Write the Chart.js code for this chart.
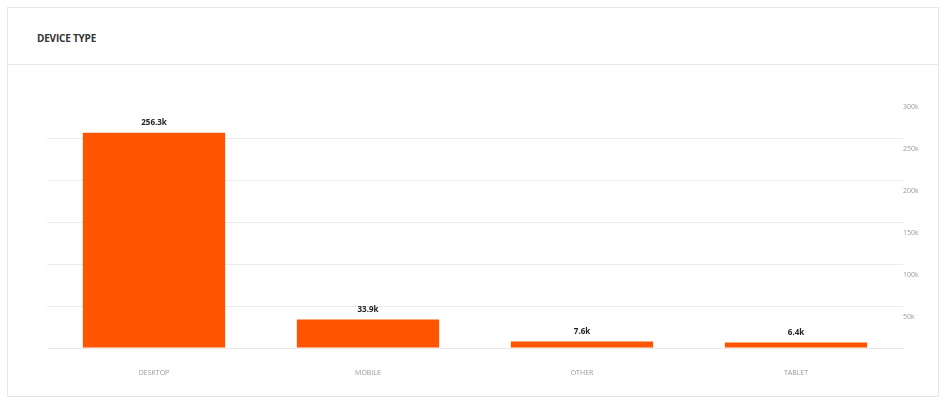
<!DOCTYPE html>
<html>
<head>
<meta charset="utf-8">
<script src="https://cdn.jsdelivr.net/npm/chart.js@4/dist/chart.umd.min.js"></script>
<style>
  html, body { margin: 0; padding: 0; background: #fff; }
  body { width: 952px; height: 404px; position: relative; overflow: hidden; font-family: "Open Sans", Arial, sans-serif; }
  .card { position: absolute; left: 7px; top: 7px; width: 932px; height: 390px; border: 1px solid #e6e6e6; box-sizing: border-box; }
  .card-head { position: absolute; left: 0; top: 0; right: 0; height: 56px; border-bottom: 1px solid #e9e9e9; }
  .card-head h3 { margin: 0; position: absolute; left: 29px; top: 23px; font-size: 10px; font-weight: 700; color: #333; letter-spacing: -0.2px; }
  .plot { position: absolute; left: 0; top: 0; width: 952px; height: 404px; }
</style>
</head>
<body>
<div class="card"><div class="card-head"><h3>DEVICE TYPE</h3></div></div>
<div class="plot"><canvas id="deviceChart" width="952" height="404"></canvas></div>
<script>
(function () {
  // adatok
  const categories = ["DESKTOP", "MOBILE", "OTHER", "TABLET"];
  const sessions = [256300, 33900, 7600, 6400];
  const yTicks = [0, 50000, 100000, 150000, 200000, 250000, 300000];

  const fmtK = (v) => (v / 1000).toFixed(1) + "k";

  // bar felett érték címke
  const valueLabels = {
    id: "valueLabels",
    afterDatasetsDraw(chart) {
      const { ctx } = chart;
      const meta = chart.getDatasetMeta(0);
      ctx.save();
      ctx.font = "bold 8px 'Open Sans', Arial, sans-serif";
      ctx.fillStyle = "#222";
      ctx.textAlign = "center";
      ctx.textBaseline = "middle";
      meta.data.forEach((bar, i) => {
        ctx.fillText(fmtK(sessions[i]), bar.x, bar.y - 10);
      });
      ctx.restore();
    },
  };

  new Chart(document.getElementById("deviceChart"), {
    type: "bar",
    data: {
      labels: categories,
      datasets: [
        {
          label: "Sessions",
          data: sessions,
          backgroundColor: "#ff5500",
          borderWidth: 0,
          barPercentage: 0.665,
          categoryPercentage: 1,
        },
      ],
    },
    options: {
      responsive: false,
      animation: false,
      layout: { padding: { left: 47, top: 96, right: 0, bottom: 0 } },
      plugins: { legend: { display: false }, tooltip: { enabled: false } },
      scales: {
        x: {
          grid: { display: false },
          border: { color: "#e8e8e8" },
          ticks: {
            color: "#999",
            font: { size: 7, family: "'Open Sans', Arial, sans-serif" },
            padding: 13,
          },
          afterFit(s) { s.height = 56; },
        },
        y: {
          position: "right",
          min: 0,
          max: 300000,
          afterBuildTicks(s) { s.ticks = yTicks.map((v) => ({ value: v })); },
          grid: {
            drawTicks: false,
            color: (c) => (c.tick && (c.tick.value === 300000) ? "rgba(0,0,0,0)" : "#ebebeb"),
          },
          border: { display: false },
          ticks: {
            color: "#999",
            font: { size: 7, family: "'Open Sans', Arial, sans-serif" },
            padding: 0,
            labelOffset: 11,
            callback: (v) => (v === 0 ? "" : v / 1000 + "k"),
          },
          afterFit(s) { s.width = 49; },
        },
      },
    },
    plugins: [valueLabels],
  });
})();
</script>
</body>
</html>
